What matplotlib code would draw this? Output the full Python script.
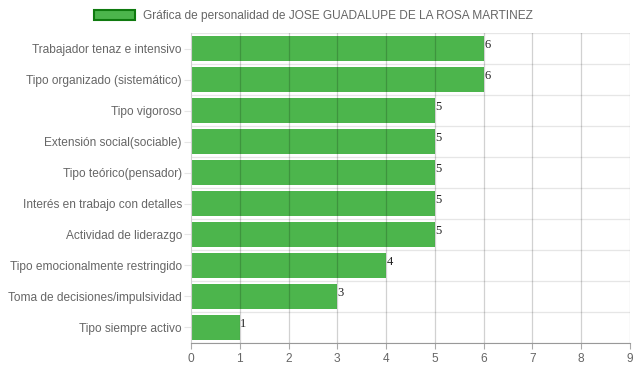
import matplotlib.pyplot as plt
import matplotlib.patches as mpatches
import numpy as np

plt.rcParams['font.family'] = ['Liberation Sans', 'DejaVu Sans']

categories = [
    "Trabajador tenaz e intensivo",
    "Tipo organizado (sistemático)",
    "Tipo vigoroso",
    "Extensión social(sociable)",
    "Tipo teórico(pensador)",
    "Interés en trabajo con detalles",
    "Actividad de liderazgo",
    "Tipo emocionalmente restringido",
    "Toma de decisiones/impulsividad",
    "Tipo siempre activo",
]
values = [6, 6, 5, 5, 5, 5, 5, 4, 3, 1]
title = "Gráfica de personalidad de JOSE GUADALUPE DE LA ROSA MARTINEZ"

fig = plt.figure(figsize=(6.37, 3.71), dpi=100)
ax = fig.add_axes([0.2998, 0.0755, 0.6892, 0.8355])

y = np.arange(len(categories))
ax.barh(y, values, height=0.78, color="#4cb54c", zorder=2)
for yi, v in zip(y, values):
    ax.text(v + 0.01, yi - 0.1, str(v), fontsize=9, family="Liberation Serif",
            color="#222222", va="center", ha="left", zorder=4)

ax.set_xlim(0, 9)
ax.set_ylim(len(categories) - 0.5, -0.5)
ax.set_xticks(range(10))
ax.set_yticks(y)
ax.set_yticklabels(categories)
ax.tick_params(axis="both", colors="#666666", labelsize=8.6, length=4, width=0.8)
ax.tick_params(axis="x", color="#aaaaaa", pad=3)
ax.tick_params(axis="y", length=5, color="#e6e6e6", pad=1.5)

# vertical grid over bars
for xv in range(1, 10):
    ax.axvline(xv, color=(0, 0, 0, 0.18), lw=0.9, zorder=3)
# horizontal separators between categories
for b in np.arange(-0.5, len(categories), 1.0):
    ax.axhline(b, color="#e6e6e6", lw=0.9, zorder=1)

for s in ["top", "right"]:
    ax.spines[s].set_visible(False)
ax.spines["left"].set_color("#d0d0d0")
ax.spines["bottom"].set_color("#999999")

handle = mpatches.Patch(facecolor="#4cb54c", edgecolor="#0f7a0f", linewidth=1.5, label=title)
fig.legend(handles=[handle], loc="upper center", bbox_to_anchor=(0.492, 1.003), frameon=False,
           fontsize=8.6, labelcolor="#666666", handlelength=3.4, handleheight=0.9, handletextpad=0.7)

fig.savefig("out.png", dpi=100)
